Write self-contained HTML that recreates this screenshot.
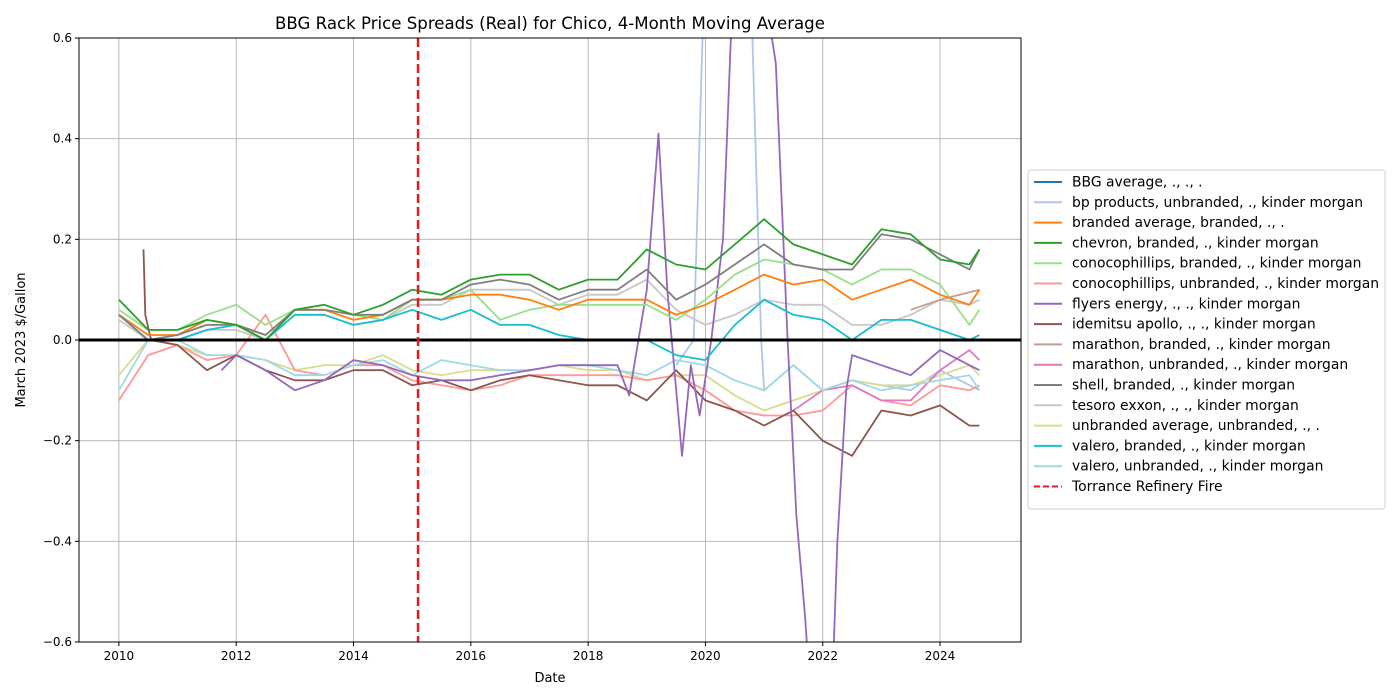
<!DOCTYPE html>
<html><head><meta charset="utf-8">
<style>
html,body{margin:0;padding:0;background:#fff;overflow:hidden;width:1400px;height:700px;}
svg{display:block;}
svg text{font-family:"DejaVu Sans","Liberation Sans",sans-serif;}
</style></head>
<body>
<svg id="chart" width="1400" height="700" xmlns="http://www.w3.org/2000/svg">
<defs><clipPath id="plotclip"><rect x="79" y="38" width="942" height="604"/></clipPath></defs>
<rect x="0" y="0" width="1400" height="700" fill="#fff"/>
<text x="550" y="29" text-anchor="middle" font-size="16.6">BBG Rack Price Spreads (Real) for Chico, 4-Month Moving Average</text>
<text x="550" y="682" text-anchor="middle" font-size="13">Date</text>
<text transform="translate(25,340) rotate(-90)" text-anchor="middle" font-size="13">March 2023 $/Gallon</text>
<g id="grid"></g>
<g id="series" clip-path="url(#plotclip)"></g>
<rect x="79" y="38" width="942" height="604" fill="none" stroke="#000" stroke-width="1"/>
<g id="ticks"></g>
<g id="legend"></g>
</svg>
<script>
const xTicks=[2010,2012,2014,2016,2018,2020,2022,2024];
const yTicks=[-0.6,-0.4,-0.2,0.0,0.2,0.4,0.6];
const fireYear=2015.1;
const dates=[2010,2010.5,2011,2011.5,2012,2012.5,2013,2013.5,2014,2014.5,2015,2015.5,2016,2016.5,2017,2017.5,2018,2018.5,2019,2019.5,2020,2020.5,2021,2021.5,2022,2022.5,2023,2023.5,2024,2024.5,2024.67];
const chevron=[0.08,0.02,0.02,0.04,0.03,0.0,0.06,0.07,0.05,0.07,0.1,0.09,0.12,0.13,0.13,0.1,0.12,0.12,0.18,0.15,0.14,0.19,0.24,0.19,0.17,0.15,0.22,0.21,0.16,0.15,0.18];
const shell=[0.05,0.0,0.01,0.03,0.03,0.01,0.06,0.06,0.05,0.05,0.08,0.08,0.11,0.12,0.11,0.08,0.1,0.1,0.14,0.08,0.11,0.15,0.19,0.15,0.14,0.14,0.21,0.2,0.17,0.14,0.18];
const brandedAvg=[0.05,0.01,0.01,0.04,0.03,0.01,0.06,0.06,0.04,0.05,0.08,0.08,0.09,0.09,0.08,0.06,0.08,0.08,0.08,0.05,0.07,0.1,0.13,0.11,0.12,0.08,0.1,0.12,0.09,0.07,0.1];
const conocoBranded=[0.06,0.02,0.02,0.05,0.07,0.03,0.06,0.07,0.05,0.04,0.08,0.08,0.1,0.04,0.06,0.07,0.07,0.07,0.07,0.04,0.08,0.13,0.16,0.15,0.14,0.11,0.14,0.14,0.11,0.03,0.06];
const valeroBranded=[0.05,0.0,0.0,0.02,0.03,0.0,0.05,0.05,0.03,0.04,0.06,0.04,0.06,0.03,0.03,0.01,0.0,0.0,0.0,-0.03,-0.04,0.03,0.08,0.05,0.04,0.0,0.04,0.04,0.02,0.0,0.01];
const tesoro=[0.04,0.0,0.0,0.02,0.02,0.0,0.05,0.05,0.03,0.04,0.07,0.07,0.1,0.1,0.1,0.07,0.09,0.09,0.12,0.06,0.03,0.05,0.08,0.07,0.07,0.03,0.03,0.05,0.08,0.07,0.08];
const unbrandedAvg=[-0.07,0.0,-0.01,-0.03,-0.03,-0.04,-0.06,-0.05,-0.05,-0.03,-0.06,-0.07,-0.06,-0.06,-0.06,-0.05,-0.06,-0.06,-0.08,-0.07,-0.07,-0.11,-0.14,-0.12,-0.1,-0.08,-0.09,-0.09,-0.07,-0.05,-0.07];
const conocoUnbranded=[-0.12,-0.03,-0.01,-0.04,-0.03,0.05,-0.06,-0.07,-0.05,-0.05,-0.08,-0.09,-0.1,-0.09,-0.07,-0.07,-0.07,-0.07,-0.08,-0.07,-0.1,-0.14,-0.15,-0.15,-0.14,-0.09,-0.12,-0.13,-0.09,-0.1,-0.09];
const valeroUnbranded=[-0.1,0.0,0.0,-0.03,-0.03,-0.04,-0.07,-0.07,-0.05,-0.04,-0.07,-0.04,-0.05,-0.06,-0.06,-0.05,-0.05,-0.06,-0.07,-0.04,-0.05,-0.08,-0.1,-0.05,-0.1,-0.08,-0.1,-0.09,-0.08,-0.07,-0.1];
const idemitsuDates=[2010.42,2010.45,2010.55,2011,2011.5,2012,2012.5,2013,2013.5,2014,2014.5,2015,2015.5,2016,2016.5,2017,2017.5,2018,2018.5,2019,2019.5,2020,2020.5,2021,2021.5,2022,2022.5,2023,2023.5,2024,2024.5,2024.67];
const idemitsu=[0.18,0.05,0.0,-0.01,-0.06,-0.03,-0.06,-0.08,-0.08,-0.06,-0.06,-0.09,-0.08,-0.1,-0.08,-0.07,-0.08,-0.09,-0.09,-0.12,-0.06,-0.12,-0.14,-0.17,-0.14,-0.2,-0.23,-0.14,-0.15,-0.13,-0.17,-0.17];
const flyersDates=[2011.75,2012,2012.5,2013,2013.5,2014,2014.5,2015,2015.5,2016,2016.5,2017,2017.5,2018,2018.5,2018.7,2019.0,2019.2,2019.35,2019.6,2019.75,2019.9,2020.1,2020.3,2020.5,2021,2021.2,2021.4,2021.55,2021.7,2021.9,2022.1,2022.25,2022.4,2022.5,2023,2023.5,2024,2024.5,2024.67];
const flyers=[-0.06,-0.03,-0.06,-0.1,-0.08,-0.04,-0.05,-0.07,-0.08,-0.08,-0.07,-0.06,-0.05,-0.05,-0.05,-0.11,0.1,0.41,0.1,-0.23,-0.05,-0.15,0.0,0.2,0.8,0.7,0.55,0.0,-0.35,-0.55,-0.9,-0.9,-0.4,-0.1,-0.03,-0.05,-0.07,-0.02,-0.05,-0.06];
const bpDates=[2019.5,2019.8,2019.95,2020.1,2020.5,2020.8,2020.95,2021.0,2021.5,2022,2022.5,2023,2023.5,2024,2024.67];
const bp=[-0.05,0.0,0.6,1.5,1.5,0.6,0.0,-0.1,-0.05,-0.1,-0.08,-0.09,-0.1,-0.06,-0.1];
const marDates=[2021.5,2022,2022.5,2023,2023.5,2024,2024.5,2024.67];
const marathonUnbranded=[-0.14,-0.1,-0.09,-0.12,-0.12,-0.06,-0.02,-0.04];
const marBDates=[2023.5,2024,2024.67];
const marathonBranded=[0.06,0.08,0.1];

const X0=79,X1=1021,Y0=38,Y1=642,XMIN=2009.32,XMAX=2025.38,YMIN=-0.6,YMAX=0.6;
const sx=v=>X0+(v-XMIN)/(XMAX-XMIN)*(X1-X0);
const sy=v=>Y1-(v-YMIN)/(YMAX-YMIN)*(Y1-Y0);
const NS="http://www.w3.org/2000/svg";
const grid=document.getElementById('grid'),ticks=document.getElementById('ticks');
xTicks.forEach(t=>{
 const l=document.createElementNS(NS,'line');
 
 
 l.setAttribute('x1',sx(t));l.setAttribute('x2',sx(t));l.setAttribute('y1',Y0);l.setAttribute('y2',Y1);
 l.setAttribute('stroke','#b0b0b0');l.setAttribute('stroke-width','0.9');grid.appendChild(l);
 const tk=document.createElementNS(NS,'line');
 tk.setAttribute('x1',sx(t));tk.setAttribute('x2',sx(t));tk.setAttribute('y1',Y1);tk.setAttribute('y2',Y1+4);tk.setAttribute('stroke','#000');ticks.appendChild(tk);
 const tx=document.createElementNS(NS,'text');
 
 
 tx.setAttribute('x',sx(t));tx.setAttribute('y',Y1+18);tx.setAttribute('text-anchor','middle');tx.setAttribute('font-size','12');tx.textContent=t;ticks.appendChild(tx);
});
yTicks.forEach(t=>{
 const l=document.createElementNS(NS,'line');
 
 
 l.setAttribute('x1',X0);l.setAttribute('x2',X1);l.setAttribute('y1',sy(t));l.setAttribute('y2',sy(t));
 l.setAttribute('stroke','#b0b0b0');l.setAttribute('stroke-width','0.9');grid.appendChild(l);
 const tk=document.createElementNS(NS,'line');
 tk.setAttribute('x1',X0-4);tk.setAttribute('x2',X0);tk.setAttribute('y1',sy(t));tk.setAttribute('y2',sy(t));tk.setAttribute('stroke','#000');ticks.appendChild(tk);
 const tx=document.createElementNS(NS,'text');
 
 
 tx.setAttribute('x',X0-7);tx.setAttribute('y',sy(t)+4);tx.setAttribute('text-anchor','end');tx.setAttribute('font-size','12');
 tx.textContent=(t<0?'\u2212':'')+Math.abs(t).toFixed(1);ticks.appendChild(tx);
});
const seriesG=document.getElementById('series');
const series=[
 ['bp-products-line','#aec7e8',bpDates,bp],
 ['tesoro-line','#c7c7c7',dates,tesoro],
 ['unbranded-average-line','#dbdb8d',dates,unbrandedAvg],
 ['conoco-unbranded-line','#ff9896',dates,conocoUnbranded],
 ['marathon-unbranded-line','#e377c2',marDates,marathonUnbranded],
 ['marathon-branded-line','#c49c94',marBDates,marathonBranded],
 ['valero-unbranded-line','#9edae5',dates,valeroUnbranded],
 ['idemitsu-line','#8c564b',idemitsuDates,idemitsu],
 ['flyers-energy-line','#9467bd',flyersDates,flyers],
 ['conoco-branded-line','#98df8a',dates,conocoBranded],
 ['branded-average-line','#ff7f0e',dates,brandedAvg],
 ['valero-branded-line','#17becf',dates,valeroBranded],
 ['shell-line','#7f7f7f',dates,shell],
 ['chevron-line','#2ca02c',dates,chevron]
];
series.forEach(s=>{
 const p=document.createElementNS(NS,'polyline');
 
 
 p.setAttribute('points',s[2].map((d,i)=>sx(d).toFixed(1)+','+sy(s[3][i]).toFixed(1)).join(' '));
 p.setAttribute('fill','none');p.setAttribute('stroke',s[1]);p.setAttribute('stroke-width','1.8');p.setAttribute('stroke-linejoin','round');
 seriesG.appendChild(p);
});
const zl=document.createElementNS(NS,'line');


zl.setAttribute('x1',X0);zl.setAttribute('x2',X1);zl.setAttribute('y1',sy(0));zl.setAttribute('y2',sy(0));zl.setAttribute('stroke','#000');zl.setAttribute('stroke-width','3');
seriesG.appendChild(zl);
const fl=document.createElementNS(NS,'line');


fl.setAttribute('x1',sx(fireYear));fl.setAttribute('x2',sx(fireYear));fl.setAttribute('y1',Y0);fl.setAttribute('y2',Y1);fl.setAttribute('stroke','#e41a1c');fl.setAttribute('stroke-width','2.5');fl.setAttribute('stroke-dasharray','9,4');
seriesG.appendChild(fl);
const legendItems=[
 ['BBG average, ., ., .','#1f77b4',''],
 ['bp products, unbranded, ., kinder morgan','#aec7e8',''],
 ['branded average, branded, ., .','#ff7f0e',''],
 ['chevron, branded, ., kinder morgan','#2ca02c',''],
 ['conocophillips, branded, ., kinder morgan','#98df8a',''],
 ['conocophillips, unbranded, ., kinder morgan','#ff9896',''],
 ['flyers energy, ., ., kinder morgan','#9467bd',''],
 ['idemitsu apollo, ., ., kinder morgan','#8c564b',''],
 ['marathon, branded, ., kinder morgan','#c49c94',''],
 ['marathon, unbranded, ., kinder morgan','#e377c2',''],
 ['shell, branded, ., kinder morgan','#7f7f7f',''],
 ['tesoro exxon, ., ., kinder morgan','#c7c7c7',''],
 ['unbranded average, unbranded, ., .','#dbdb8d',''],
 ['valero, branded, ., kinder morgan','#17becf',''],
 ['valero, unbranded, ., kinder morgan','#9edae5',''],
 ['Torrance Refinery Fire','#e41a1c','6,3']
];
const lg=document.getElementById('legend');
const box=document.createElementNS(NS,'rect');


box.setAttribute('x',1028);box.setAttribute('y',170);box.setAttribute('width',357);box.setAttribute('height',339);box.setAttribute('rx',3);
box.setAttribute('fill','#fff');box.setAttribute('stroke','#d0d0d0');lg.appendChild(box);
legendItems.forEach((it,i)=>{
 const y=182+i*20.3;
 const g=document.createElementNS(NS,'g');
 
 
 const l=document.createElementNS(NS,'line');
 l.setAttribute('x1',1034);l.setAttribute('x2',1062);l.setAttribute('y1',y);l.setAttribute('y2',y);l.setAttribute('stroke',it[1]);l.setAttribute('stroke-width','2');
 if(it[2])l.setAttribute('stroke-dasharray',it[2]);
 g.appendChild(l);
 const t=document.createElementNS(NS,'text');
 t.setAttribute('x',1072);t.setAttribute('y',y+4.5);t.setAttribute('font-size','13.9');t.textContent=it[0];g.appendChild(t);
 lg.appendChild(g);
});
</script>
</body></html>
